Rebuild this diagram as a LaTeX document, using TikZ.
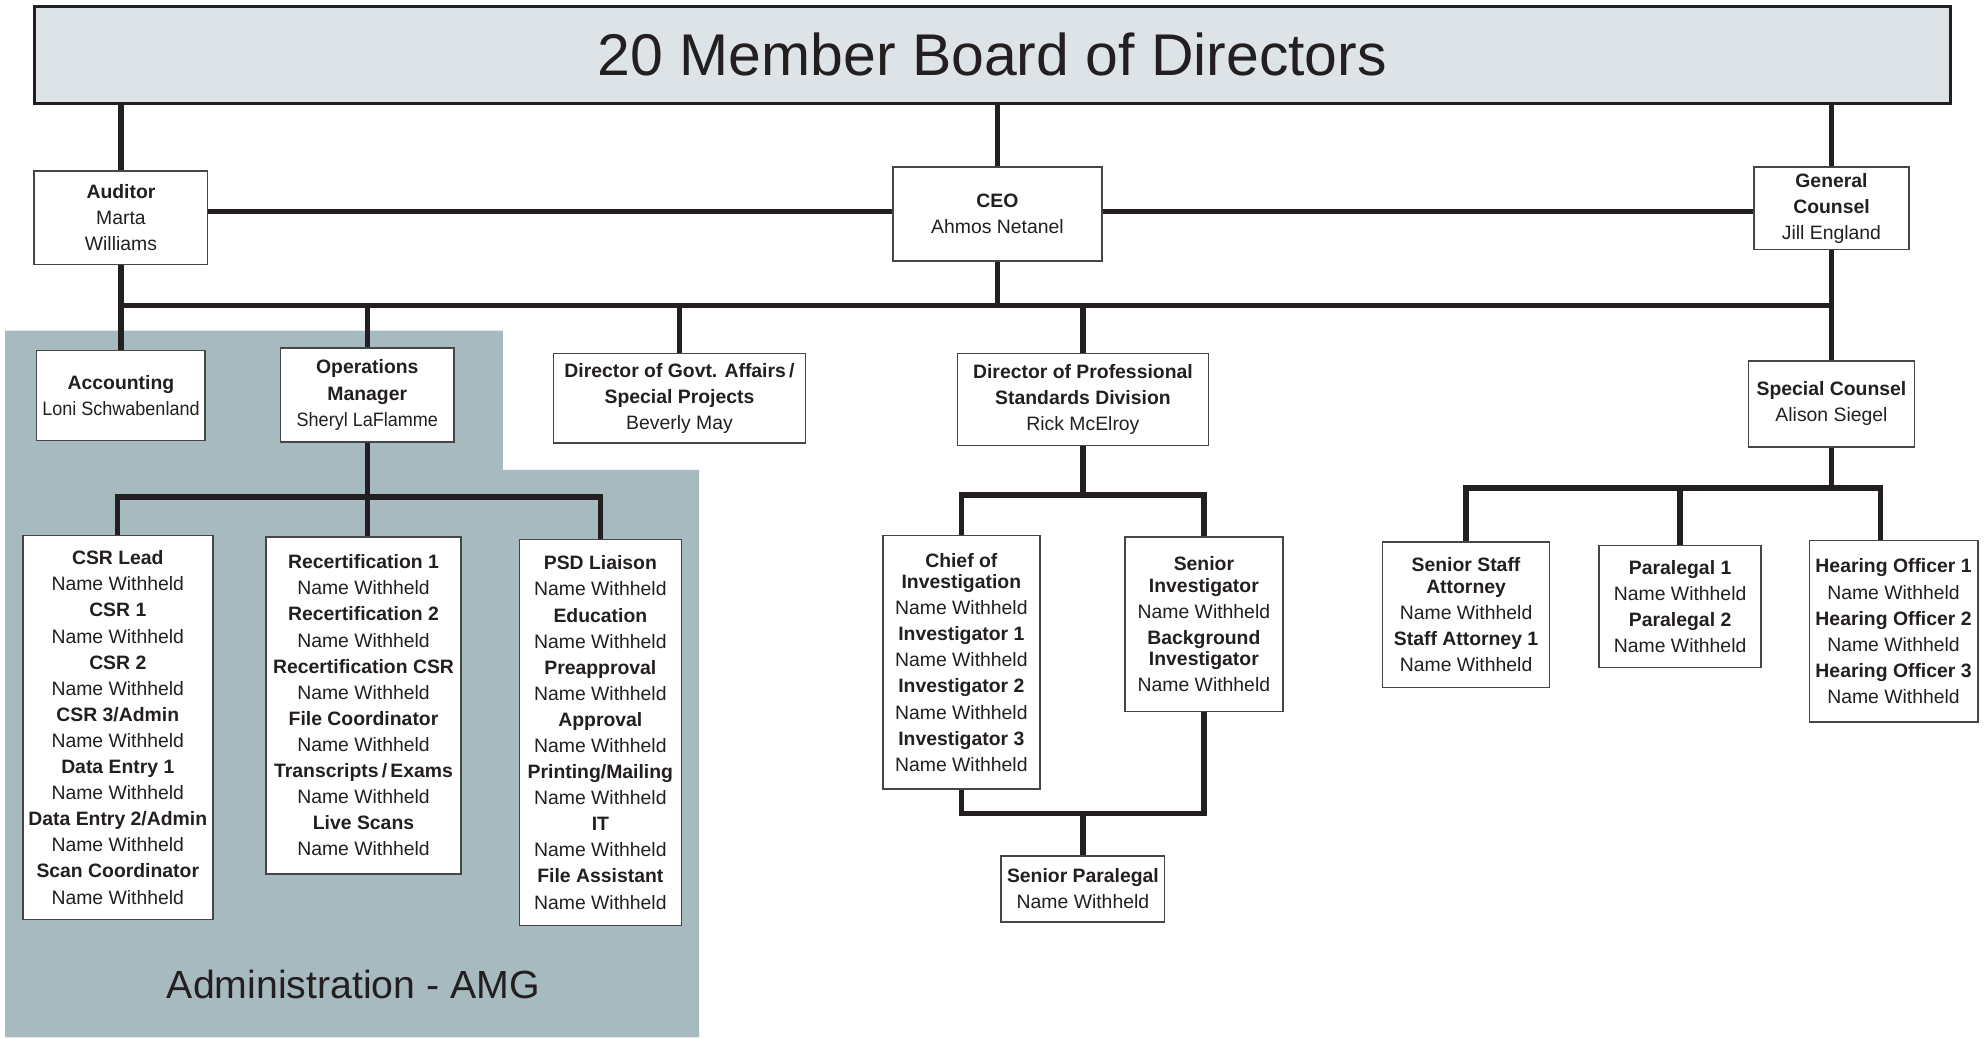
\documentclass[tikz,border=0pt]{standalone}
\usepackage{fontspec}
\setmainfont{Liberation Sans}
\usepackage{graphicx}
\usetikzlibrary{positioning}
\usetikzlibrary{calc}
\definecolor{mink}{RGB}{35,31,32}
\definecolor{mframe}{RGB}{70,70,70}
\definecolor{mboard}{RGB}{221,227,230}
\definecolor{madmin}{RGB}{166,186,191}
\newcommand{\withheld}{Name Withheld}

\begin{document}
\begin{tikzpicture}[x=1pt, y=-1pt,
    unit/.style={draw=mframe, line width=1.2pt, fill=white, text=mink, align=center, inner sep=2pt, font=\fontsize{15.3pt}{20.6pt}\selectfont},
    board/.style={draw=mink, line width=2.2pt, fill=mboard, text=mink, font=\fontsize{46.5pt}{50pt}\selectfont},
    link/.style={draw=mink, line width=4.2pt},
]
\useasboundingbox (0,0) rectangle (1568,819);
\fill[madmin] (4,261) -- (397,261) -- (397,371) -- (552,371) -- (552,819) -- (4,819) -- cycle;

\node[board, minimum width=1513pt, minimum height=77pt] (board) at (783.5,43.5) {\raisebox{1.5pt}{20 Member Board of Directors}};
\node[below of=board, unit, minimum width=165pt, minimum height=74pt, xshift=4pt, yshift=-97pt] (ceo) {\textbf{CEO}\\Ahmos Netanel};
\node[below of=board, unit, minimum width=137pt, minimum height=74pt, xshift=-688pt, yshift=-100pt] (auditor) {\textbf{Auditor}\\Marta\\Williams};
\node[below of=board, unit, minimum width=122pt, minimum height=65pt, xshift=662.5pt, yshift=-92.5pt] (gc) {\textbf{General}\\\textbf{Counsel}\\Jill England};

\node[below of=auditor, unit, minimum width=133pt, minimum height=71pt, yshift=-112pt] (acct) {\textbf{Accounting}\\\scalebox{0.93}[1]{Loni Schwabenland}};
\node[below of=auditor, unit, minimum width=137pt, minimum height=74pt, xshift=194.5pt, yshift=-111.5pt] (ops) {\textbf{Operations}\\\textbf{Manager}\\\scalebox{0.93}[1]{Sheryl LaFlamme}};
\node[below of=ceo, unit, minimum width=199pt, minimum height=71pt, xshift=-251pt, yshift=-117pt] (govt) {\textbf{Director of Govt. Affairs\,/}\\\textbf{Special Projects}\\Beverly May};
\node[below of=ceo, unit, minimum width=198pt, minimum height=73pt, xshift=67.5pt, yshift=-118pt] (psd) {\textbf{Director of Professional}\\\textbf{Standards Division}\\Rick McElroy};
\node[below of=gc, unit, minimum width=131pt, minimum height=68pt, yshift=-126pt] (spc) {\textbf{Special Counsel}\\Alison Siegel};

\node[below of=ops, unit, minimum width=150pt, minimum height=303pt, xshift=-197pt, yshift=-234pt] (csr) {\textbf{CSR Lead}\\\withheld\\\textbf{CSR 1}\\\withheld\\\textbf{CSR 2}\\\withheld\\\textbf{CSR 3/Admin}\\\withheld\\\textbf{Data Entry 1}\\\withheld\\\textbf{Data Entry 2/Admin}\\\withheld\\\textbf{Scan Coordinator}\\\withheld};
\node[below of=ops, unit, minimum width=154pt, minimum height=266pt, xshift=-3pt, yshift=-216.5pt] (recert) {\textbf{Recertification 1}\\\withheld\\\textbf{Recertification 2}\\\withheld\\\textbf{Recertification CSR}\\\withheld\\\textbf{File Coordinator}\\\withheld\\\textbf{Transcripts\,/\,Exams}\\\withheld\\\textbf{Live Scans}\\\withheld};
\node[below of=ops, unit, minimum width=128pt, minimum height=305pt, xshift=184pt, yshift=-238pt] (liaison) {\textbf{PSD Liaison}\\\withheld\\\textbf{Education}\\\withheld\\\textbf{Preapproval}\\\withheld\\\textbf{Approval}\\\withheld\\\textbf{Printing/Mailing}\\\withheld\\\textbf{IT}\\\withheld\\\textbf{File Assistant}\\\withheld};
\node[font=\fontsize{31pt}{34pt}\selectfont, text=mink] (admin) at (279,777) {Administration - AMG};

\node[below of=psd, unit, minimum width=124pt, minimum height=200pt, xshift=-96pt, yshift=-179pt] (chief) {\textbf{Chief of}\\[-3.6pt]\textbf{Investigation}\\\withheld\\\textbf{Investigator 1}\\\withheld\\\textbf{Investigator 2}\\\withheld\\\textbf{Investigator 3}\\\withheld};
\node[below of=psd, unit, minimum width=125pt, minimum height=138pt, xshift=95.5pt, yshift=-149pt] (seninv) {\textbf{Senior}\\[-3.6pt]\textbf{Investigator}\\\withheld\\\textbf{Background}\\[-3.6pt]\textbf{Investigator}\\\withheld};
\node[below of=psd, unit, minimum width=129pt, minimum height=52pt, yshift=-358pt] (senpara) {\textbf{Senior Paralegal}\\\withheld};

\node[below of=spc, unit, minimum width=132pt, minimum height=115pt, xshift=-288.5pt, yshift=-138pt] (ssa) {\textbf{Senior Staff}\\[-3pt]\textbf{Attorney}\\\withheld\\\textbf{Staff Attorney 1}\\\withheld};
\node[below of=spc, unit, minimum width=128pt, minimum height=96pt, xshift=-119.5pt, yshift=-131.5pt] (para) {\textbf{Paralegal 1}\\\withheld\\\textbf{Paralegal 2}\\\withheld};
\node[below of=spc, unit, minimum width=133pt, minimum height=143pt, xshift=49pt, yshift=-151pt] (ho) {\textbf{Hearing Officer 1}\\\withheld\\\textbf{Hearing Officer 2}\\\withheld\\\textbf{Hearing Officer 3}\\\withheld};

\coordinate (topbus) at ($(ceo.south)!0.5!(acct.north)$);
\coordinate (adminbus) at ($(ops.south)!0.58!(recert.north)$);
\coordinate (psdbus) at ($(psd.south)!0.55!(chief.north)$);
\coordinate (parabus) at ($(chief.south)!0.36!(senpara.north)$);
\coordinate (counselbus) at ($(spc.south)!0.43!(ssa.north)$);
\coordinate (hotop) at ($(ho.north)+(-10.5,0)$);

\draw[link] (board.south -| auditor) -- (auditor.north);
\draw[link] (board.south -| ceo) -- (ceo.north);
\draw[link] (board.south -| gc) -- (gc.north);
\draw[link] (auditor.east |- 0,167) -- (ceo.west |- 0,167);
\draw[link] (ceo.east |- 0,167) -- (gc.west |- 0,167);

\draw[link] (auditor.south) -- (acct.north);
\draw[link] (ceo.south) -- (ceo.south |- topbus);
\draw[link] (gc.south) -- (gc.south |- spc.north);
\draw[link] (auditor.south |- topbus) -- (gc.south |- topbus);
\draw[link] (ops.north |- topbus) -- (ops.north);
\draw[link] (govt.north |- topbus) -- (govt.north);
\draw[link] (psd.north |- topbus) -- (psd.north);

\draw[link] (ops.south) -- (ops.south |- recert.north);
\draw[link] (csr.north) -- (csr.north |- adminbus) -- (liaison.north |- adminbus) -- (liaison.north);

\draw[link] (psd.south) -- (psd.south |- psdbus);
\draw[link] (chief.north) -- (chief.north |- psdbus) -- (seninv.north |- psdbus) -- (seninv.north);
\draw[link] (chief.south) -- (chief.south |- parabus) -- (seninv.south |- parabus) -- (seninv.south);
\draw[link] (senpara.north |- parabus) -- (senpara.north);

\draw[link] (spc.south) -- (spc.south |- counselbus);
\draw[link] (ssa.north) -- (ssa.north |- counselbus) -- (hotop |- counselbus) -- (hotop);
\draw[link] (para.north |- counselbus) -- (para.north);
\end{tikzpicture}
\end{document}
